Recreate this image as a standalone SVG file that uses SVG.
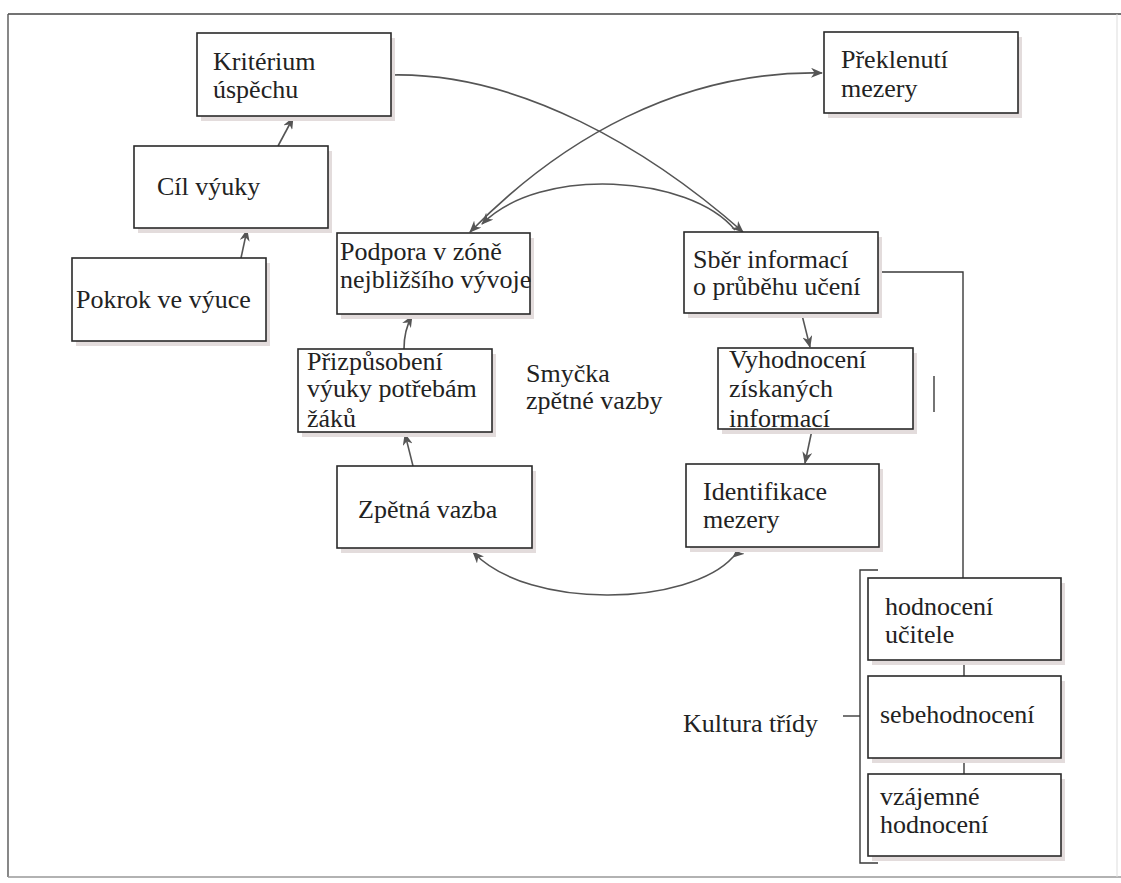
<svg xmlns="http://www.w3.org/2000/svg" width="1121" height="883" viewBox="0 0 1121 883">
<style>
  .box { fill: #ffffff; stroke: #2a2a2a; stroke-width: 1.6; }
  .shadow { fill: #e3dcdc; stroke: none; }
  .t { font-family: 'Liberation Serif', 'DejaVu Serif', serif; font-size: 26px; fill: #222222; }
  .con { fill: none; stroke: #555555; stroke-width: 1.6; }
  .plain { fill: none; stroke: #3a3a3a; stroke-width: 1.4; }
</style>
<defs>
  <marker id="arr" viewBox="0 0 12 10" refX="11" refY="5" markerWidth="12" markerHeight="10" markerUnits="userSpaceOnUse" orient="auto-start-reverse">
    <path d="M0,0 L12,5 L0,10 L3.5,5 z" fill="#555555"/>
  </marker>
</defs>
<rect width="1121" height="883" fill="#ffffff"/>
<g id="frame">
  <line x1="8" y1="14" x2="1121" y2="14" stroke="#444" stroke-width="1.6"/>
  <line x1="8" y1="14" x2="8" y2="877" stroke="#555" stroke-width="1.4"/>
  <line x1="8" y1="877" x2="1121" y2="877" stroke="#999" stroke-width="1.4"/>
  <line x1="1117" y1="14" x2="1117" y2="877" stroke="#ddd" stroke-width="1"/>
</g>
<g id="connectors">
  <path class="con" d="M241,258 L247,230" marker-end="url(#arr)"/>
  <path class="con" d="M278,146 L293,118" marker-end="url(#arr)"/>
  <path class="con" d="M391,75 C520,72 650,150 743,232" marker-end="url(#arr)"/>
  <path class="con" d="M470,232 C560,140 680,70 822,73" marker-start="url(#arr)" marker-end="url(#arr)"/>
  <path class="con" d="M735,230 C690,175 540,165 482,224" marker-end="url(#arr)"/>
  <path class="con" d="M802,315 L810,347" marker-end="url(#arr)"/>
  <path class="con" d="M812,430 L805,463" marker-end="url(#arr)"/>
  <path class="con" d="M745,547 L733,557" marker-end="url(#arr)"/>
  <path class="con" d="M733,557 C690,605 530,612 473,552" marker-end="url(#arr)"/>
  <path class="con" d="M413,466 L405,434" marker-end="url(#arr)"/>
  <path class="con" d="M404,349 Q404,330 412,316" marker-end="url(#arr)"/>
  <path class="plain" d="M878,272 L963,272 L963,578"/>
  <path class="plain" d="M964,660 L964,676"/>
  <path class="plain" d="M964,758 L964,774"/>
  <path class="plain" d="M878,570 L860,570 L860,863 L878,863"/>
  <path class="plain" d="M843,716 L860,716"/>
  <path class="plain" d="M934,376 L934,412" stroke="#777"/>
</g>
<g id="kriterium">
  <rect class="shadow" x="201" y="38" width="194" height="83"/>
  <rect class="box" x="197" y="33" width="194" height="83"/>
  <text class="t" x="213" y="70">Kritérium</text>
  <text class="t" x="213" y="98">úspěchu</text>
</g>
<g id="cil">
  <rect class="shadow" x="138" y="151" width="194" height="82"/>
  <rect class="box" x="134" y="146" width="194" height="82"/>
  <text class="t" x="157" y="195">Cíl výuky</text>
</g>
<g id="pokrok">
  <rect class="shadow" x="76" y="263" width="194" height="83"/>
  <rect class="box" x="72" y="258" width="194" height="83"/>
  <text class="t" x="76" y="308">Pokrok ve výuce</text>
</g>
<g id="podpora">
  <rect class="shadow" x="341" y="238" width="193" height="81"/>
  <rect class="box" x="337" y="233" width="193" height="81"/>
  <text class="t" x="340" y="260">Podpora v zóně</text>
  <text class="t" x="340" y="288">nejbližšího vývoje</text>
</g>
<g id="prekleuti">
  <rect class="shadow" x="828" y="37" width="194" height="81"/>
  <rect class="box" x="824" y="32" width="194" height="81"/>
  <text class="t" x="841" y="68">Překlenutí</text>
  <text class="t" x="841" y="97">mezery</text>
</g>
<g id="sber">
  <rect class="shadow" x="688" y="237" width="194" height="81"/>
  <rect class="box" x="684" y="232" width="194" height="81"/>
  <text class="t" x="693" y="268">Sběr informací</text>
  <text class="t" x="693" y="295">o průběhu učení</text>
</g>
<g id="prizpusobeni">
  <rect class="shadow" x="302" y="354" width="194" height="83"/>
  <rect class="box" x="298" y="349" width="194" height="83"/>
  <text class="t" x="307" y="370">Přizpůsobení</text>
  <text class="t" x="307" y="397">výuky potřebám</text>
  <text class="t" x="307" y="427">žáků</text>
</g>
<g id="smycka">
  <text class="t" x="526" y="382">Smyčka</text>
  <text class="t" x="526" y="409">zpětné vazby</text>
</g>
<g id="zpetna">
  <rect class="shadow" x="341" y="471" width="195" height="82"/>
  <rect class="box" x="337" y="466" width="195" height="82"/>
  <text class="t" x="358" y="518">Zpětná vazba</text>
</g>
<g id="vyhodnoceni">
  <rect class="shadow" x="722" y="353" width="195" height="81"/>
  <rect class="box" x="718" y="348" width="195" height="81"/>
  <text class="t" x="729" y="368">Vyhodnocení</text>
  <text class="t" x="729" y="397">získaných</text>
  <text class="t" x="729" y="427">informací</text>
</g>
<g id="identifikace">
  <rect class="shadow" x="690" y="469" width="193" height="83"/>
  <rect class="box" x="686" y="464" width="193" height="83"/>
  <text class="t" x="703" y="500">Identifikace</text>
  <text class="t" x="703" y="528">mezery</text>
</g>
<g id="hodnoceni-ucitele">
  <rect class="shadow" x="872" y="583" width="193" height="82"/>
  <rect class="box" x="868" y="578" width="193" height="82"/>
  <text class="t" x="885" y="615">hodnocení</text>
  <text class="t" x="885" y="643">učitele</text>
</g>
<g id="sebehodnoceni">
  <rect class="shadow" x="872" y="681" width="193" height="82"/>
  <rect class="box" x="868" y="676" width="193" height="82"/>
  <text class="t" x="880" y="723">sebehodnocení</text>
</g>
<g id="vzajemne">
  <rect class="shadow" x="872" y="779" width="193" height="82"/>
  <rect class="box" x="868" y="774" width="193" height="82"/>
  <text class="t" x="880" y="805">vzájemné</text>
  <text class="t" x="880" y="833">hodnocení</text>
</g>
<g id="kultura">
  <text class="t" x="683" y="732">Kultura třídy</text>
</g>
</svg>
